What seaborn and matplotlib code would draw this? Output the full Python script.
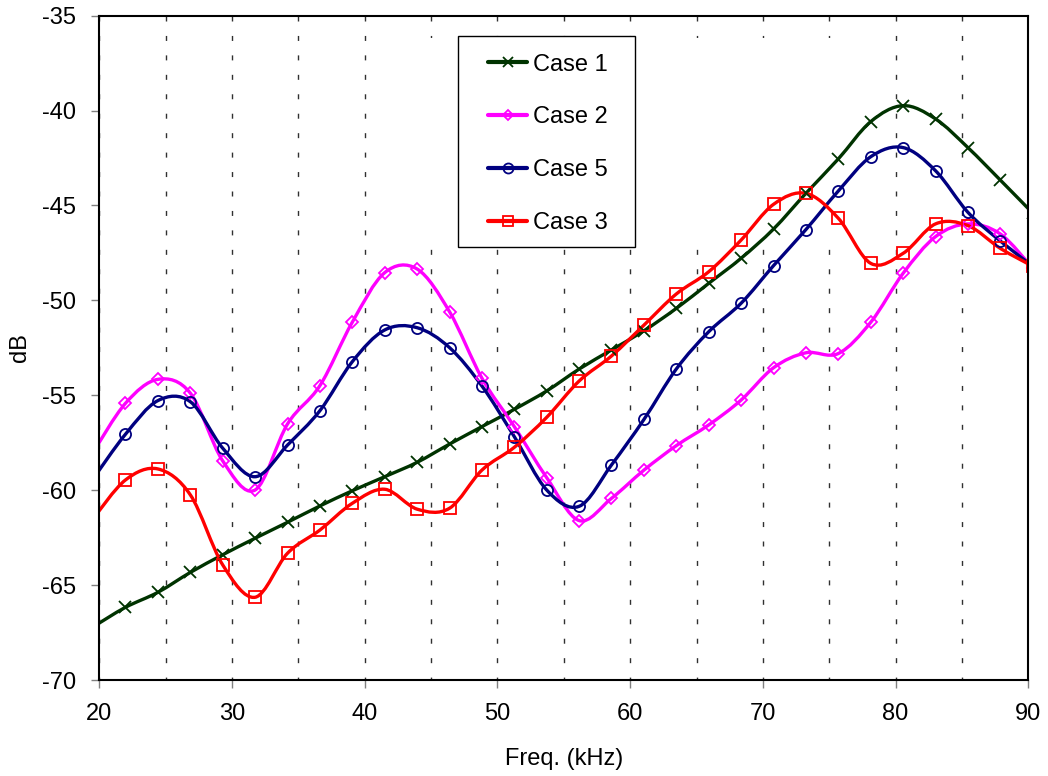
import numpy as np
import pandas as pd
import matplotlib
matplotlib.use("Agg")
import matplotlib.pyplot as plt
from matplotlib.path import Path
from matplotlib.patches import PathPatch, Rectangle
from matplotlib.lines import Line2D
from matplotlib.ticker import MultipleLocator
import seaborn as sns

# ---------------- data ----------------
freq_khz = [19.53, 21.97, 24.41, 26.86, 29.30, 31.74, 34.18, 36.62, 39.06, 41.50,
            43.95, 46.39, 48.83, 51.27, 53.71, 56.15, 58.59, 61.04, 63.48, 65.92,
            68.36, 70.80, 73.24, 75.68, 78.13, 80.57, 83.01, 85.45, 87.89, 90.33]

case1_db = [-67.2, -66.17, -65.38, -64.33, -63.4, -62.53, -61.69, -60.83, -60.03, -59.29,
            -58.53, -57.57, -56.65, -55.74, -54.77, -53.62, -52.61, -51.6, -50.42, -49.10,
            -47.78, -46.24, -44.36, -42.55, -40.58, -39.74, -40.44, -41.95, -43.66, -45.4]

case2_db = [-58.0, -55.42, -54.16, -54.89, -58.46, -59.99, -56.51, -54.49, -51.15, -48.54,
            -48.35, -50.6, -54.1, -56.65, -59.34, -61.6, -60.43, -58.94, -57.65, -56.56,
            -55.25, -53.55, -52.76, -52.8, -51.15, -48.57, -46.64, -45.97, -46.5, -48.3]

case5_db = [-59.4, -57.05, -55.28, -55.34, -57.79, -59.29, -57.62, -55.81, -53.23, -51.56,
            -51.44, -52.49, -54.51, -57.18, -59.99, -60.85, -58.67, -56.27, -53.61, -51.65,
            -50.15, -48.17, -46.27, -44.24, -42.43, -41.95, -43.17, -45.36, -46.87, -48.2]

case3_db = [-61.5, -59.46, -58.88, -60.25, -63.94, -65.64, -63.32, -62.1, -60.69, -59.95,
            -61.0, -60.95, -58.94, -57.74, -56.16, -54.25, -52.93, -51.3, -49.66, -48.49,
            -46.82, -44.94, -44.36, -45.67, -48.05, -47.52, -45.97, -46.06, -47.26, -48.2]

case_names = ["Case 1", "Case 2", "Case 5", "Case 3"]
x_ticks = [20, 30, 40, 50, 60, 70, 80, 90]
y_ticks = [-70, -65, -60, -55, -50, -45, -40, -35]

# ---------------- styles ----------------
styles = {
    "Case 1": dict(color="#003300", marker="x", ms=8.5, mfc="none"),
    "Case 2": dict(color="#FF00FF", marker="D", ms=6.0, mfc="none"),
    "Case 5": dict(color="#000080", marker="o", ms=8.0, mfc="none"),
    "Case 3": dict(color="#FF0000", marker="s", ms=8.0, mfc="none"),
}

df = pd.DataFrame({
    "freq": freq_khz * 4,
    "dB": case1_db + case2_db + case5_db + case3_db,
    "case": [n for n in case_names for _ in freq_khz],
})

sns.set_theme(style="white")
plt.rcParams["font.family"] = ["Liberation Sans", "DejaVu Sans"]
plt.rcParams["text.color"] = "black"
plt.rcParams["axes.labelcolor"] = "black"

fig, ax = plt.subplots(figsize=(10.48, 7.76), dpi=100)
fig.subplots_adjust(left=0.0948, right=0.9812, top=0.9798, bottom=0.1237)


def smooth_path(xs, ys):
    """Excel-like smoothed line: cubic Bezier through the data points."""
    pts = np.column_stack([xs, ys]).astype(float)
    n = len(pts)
    verts = [pts[0]]
    codes = [Path.MOVETO]
    for i in range(n - 1):
        p0 = pts[i - 1] if i > 0 else pts[i]
        p1 = pts[i]
        p2 = pts[i + 1]
        p3 = pts[i + 2] if i + 2 < n else pts[i + 1]
        c1 = p1 + (p2 - p0) / 6.0
        c2 = p2 - (p3 - p1) / 6.0
        verts += [c1, c2, p2]
        codes += [Path.CURVE4] * 3
    return Path(verts, codes)


for name in case_names:
    sub = df[df["case"] == name]
    st = styles[name]
    patch = PathPatch(smooth_path(sub["freq"].values, sub["dB"].values),
                      facecolor="none", edgecolor=st["color"], lw=2.4,
                      zorder=3, capstyle="round", joinstyle="round")
    ax.add_patch(patch)
    sns.lineplot(data=sub, x="freq", y="dB", ax=ax, estimator=None, sort=False,
                 linestyle="", marker=st["marker"], markersize=st["ms"],
                 markerfacecolor=st["mfc"], markeredgecolor=st["color"],
                 markeredgewidth=1.3, color=st["color"], zorder=4, legend=False)

ax.set_xlim(20, 90)
ax.set_ylim(-70, -35)
ax.set_xticks(x_ticks)
ax.set_yticks(y_ticks)
ax.set_xticklabels([str(v) for v in x_ticks])
ax.set_yticklabels([str(v) for v in y_ticks])
ax.grid(False)

# dotted vertical gridlines every 5 kHz (from the axis' own locator)
grid_locs = MultipleLocator(5).tick_values(20, 90)
ax.vlines(grid_locs, 1, 0, transform=ax.get_xaxis_transform(),
          colors="#303030", lw=1.0, linestyles=[(0, (3.6, 10.4))], zorder=0.8)

# blank region (as in reference) hiding the gridlines around the legend
hider = Rectangle((0.35, 0.652), 0.474, 0.314, transform=ax.transAxes,
                  facecolor="white", edgecolor="none", zorder=2.5)
ax.add_artist(hider)

for sp in ax.spines.values():
    sp.set_visible(True)
    sp.set_color("black")
    sp.set_linewidth(1.5)
    sp.set_zorder(5)

ax.tick_params(axis="both", which="major", direction="out", length=5.5, width=1,
               color="#808080", labelsize=17, labelcolor="black",
               bottom=True, left=True)
ax.tick_params(axis="x", which="major", pad=11)
ax.tick_params(axis="y", which="major", pad=11)

ax.set_xlabel("Freq. (kHz)", fontsize=17, labelpad=16.5)
ax.set_ylabel("dB", fontsize=17, labelpad=8)

# legend
handles = [Line2D([], [], color=styles[n]["color"], lw=3, marker=styles[n]["marker"],
                  ms=styles[n]["ms"] * 0.9, mfc="none", mec=styles[n]["color"], mew=1.3)
           for n in case_names]
ax.add_patch(Rectangle((0.3861, 0.6518), 0.1905, 0.3176, transform=ax.transAxes,
                       facecolor="white", edgecolor="black", lw=1.0, zorder=5))
leg = ax.legend(handles, case_names, loc="upper left", bbox_to_anchor=(0.4184, 0.943),
                frameon=False, borderpad=0, borderaxespad=0, fontsize=17,
                handlelength=1.65, handletextpad=0.25, labelspacing=1.31)
leg.set_zorder(6)

fig.savefig("out.png", dpi=100)
